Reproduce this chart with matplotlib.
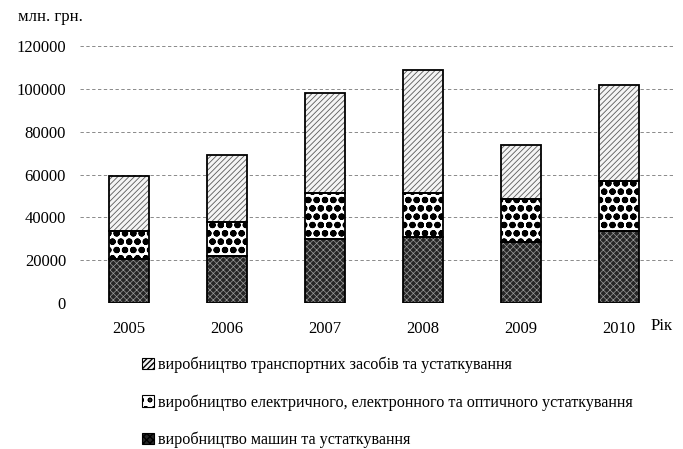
import numpy as np
import matplotlib.pyplot as plt
from matplotlib.patches import Patch

# Data (млн. грн.)
years = ['2005', '2006', '2007', '2008', '2009', '2010']
machines = [20500, 22100, 29900, 30800, 28500, 33600]
electric = [13100, 15700, 21500, 20600, 20100, 23400]
transport = [25900, 31200, 46700, 57500, 25200, 44900]

labels = ['виробництво транспортних засобів та устаткування',
          'виробництво електричного, електронного та оптичного устаткування',
          'виробництво машин та устаткування']

plt.rcParams['font.family'] = ['Liberation Serif', 'DejaVu Serif']

fig = plt.figure(figsize=(6.83, 4.49), dpi=100)
ax = fig.add_axes([0.117, 0.325, 0.868, 0.572])

x = np.arange(len(years))
w = 0.41
bottom2 = np.array(machines)
bottom3 = bottom2 + np.array(electric)

# series styles: face, hatch, hatch colour, hatch linewidth
styles = [
    ('#262626', 'xxxxx', '#9a9a9a', 0.5),   # machines
    ('white', 'oo', 'black', 2.2),          # electric
    ('#f4f4f4', '//////', '#5a5a5a', 0.6),  # transport
]
series = [(machines, 0), (electric, bottom2), (transport, bottom3)]


def set_hlw(patch, lw):
    try:
        patch.set_hatch_linewidth(lw)
    except AttributeError:
        pass


for (vals, bot), (face, hatch, hcol, hlw) in zip(series, styles):
    with plt.rc_context({'hatch.linewidth': hlw}):
        bars = ax.bar(x, vals, w, bottom=bot, color=face, edgecolor=hcol,
                      hatch=hatch, linewidth=0, zorder=3)
    for b in bars:
        set_hlw(b, hlw)
    ax.bar(x, vals, w, bottom=bot, color='none', edgecolor='black',
           linewidth=1.3, zorder=4)

ax.set_ylim(0, 120000)
ax.set_yticks(np.arange(0, 120001, 20000))
ax.set_xlim(-0.5, len(years) - 0.45)
ax.set_xticks(x)
ax.set_xticklabels(years)
ax.yaxis.grid(True, linestyle=(0, (4, 3)), color='#777777', linewidth=0.6, zorder=0)
for s in ax.spines.values():
    s.set_visible(False)
ax.tick_params(length=0, labelsize=12, pad=10)
ax.tick_params(axis='x', pad=13)

fig.text(0.026, 0.962, 'млн. грн.', fontsize=12, va='center')
fig.text(0.953, 0.273, 'Рік', fontsize=12, va='center')

handles = []
for face, hatch, hcol, hlw in styles[::-1]:
    p = Patch(facecolor=face, edgecolor='black', hatch=hatch, linewidth=0.8)
    handles.append(p)
fig.legend(handles, labels, loc='upper left', bbox_to_anchor=(0.199, 0.22),
           frameon=False, fontsize=11.6, handlelength=0.7, handleheight=0.7,
           handletextpad=0.3, labelspacing=1.3, borderaxespad=0)

fig.savefig('out.png', dpi=100)
